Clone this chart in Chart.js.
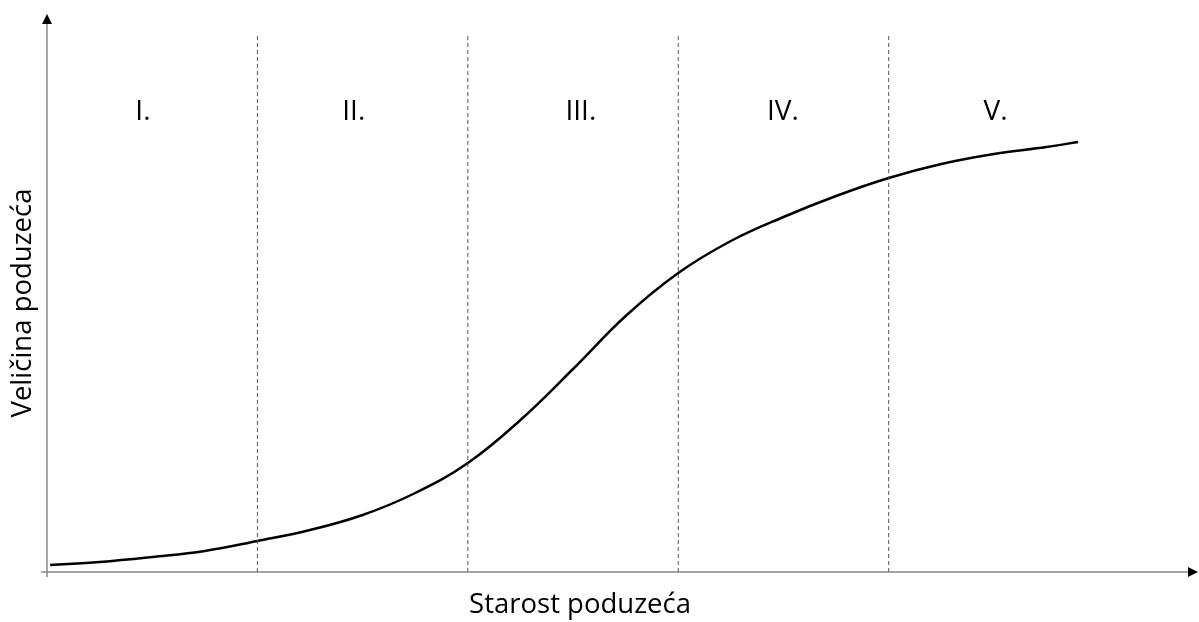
<!DOCTYPE html>
<html>
<head>
<meta charset="utf-8">
<script src="https://cdn.jsdelivr.net/npm/chart.js@4"></script>
<style>
  html, body { margin: 0; padding: 0; background: #fff; }
  #wrap { width: 1199px; height: 622px; }
</style>
</head>
<body>
<div id="wrap"><canvas id="lifeChart" width="1199" height="622"></canvas></div>
<script>
// 축 제목
const xTitle = 'Starost poduzeća';
const yTitle = 'Veličina poduzeća';

// 단계 (x축 단위 = 1 단계)
const stageBounds = [1, 2, 3, 4];
const stageTop = 537;
const stageLabels = ['I.', 'II.', 'III.', 'IV.', 'V.'];
const stageLabelX = [0.456, 1.458, 2.537, 3.497, 4.508];
const stageLabelY = 460;

// 성장 곡선
const curveX = [0.015, 0.25, 0.5, 0.75, 1.0, 1.25, 1.5, 1.75, 2.0, 2.25, 2.5,
                2.75, 3.0, 3.25, 3.5, 3.75, 4.0, 4.25, 4.5, 4.75, 4.9];
const curveY = [7, 10, 15, 21, 31, 42, 57, 79, 109, 152, 203,
                256, 299, 331, 355, 376, 394, 408, 418, 425, 430];

// 축 범위
const xMax = 5.47;
const yMax = 558;

const FONT = '"Open Sans", "Liberation Sans", sans-serif';

const curveData = curveX.map((x, i) => ({x: x, y: curveY[i]}));

const stageSets = stageBounds.map(b => ({
    data: [{x: b, y: 0}, {x: b, y: stageTop}],
    showLine: true,
    borderColor: '#555',
    borderWidth: 1,
    borderDash: [4, 3],
    pointRadius: 0
}));

/* ===== 축 + 화살표 + 텍스트 ===== */
const axesPlugin = {
    id: 'axesPlugin',
    beforeDatasetsDraw(chart) {
        const {ctx, scales: {x, y}} = chart;
        const x0 = x.getPixelForValue(0);
        const y0 = y.getPixelForValue(0);
        const xEnd = x.getPixelForValue(xMax);
        const yEnd = y.getPixelForValue(yMax);
        ctx.save();
        ctx.strokeStyle = '#8a8a8a';
        ctx.lineWidth = 1.5;
        ctx.beginPath();
        ctx.moveTo(x0 - 6, y0);
        ctx.lineTo(xEnd - 9, y0);
        ctx.moveTo(x0, y0 + 5);
        ctx.lineTo(x0, yEnd + 9);
        ctx.stroke();
        // 화살표
        ctx.fillStyle = '#000';
        ctx.beginPath();
        ctx.moveTo(xEnd, y0);
        ctx.lineTo(xEnd - 10, y0 - 5);
        ctx.lineTo(xEnd - 10, y0 + 5);
        ctx.closePath();
        ctx.fill();
        ctx.beginPath();
        ctx.moveTo(x0, yEnd);
        ctx.lineTo(x0 - 5, yEnd + 10);
        ctx.lineTo(x0 + 5, yEnd + 10);
        ctx.closePath();
        ctx.fill();
        ctx.restore();
    },
    afterDatasetsDraw(chart) {
        const {ctx, scales: {x, y}} = chart;
        ctx.save();
        ctx.fillStyle = '#000';
        ctx.textAlign = 'center';
        ctx.textBaseline = 'middle';
        ctx.font = '28px ' + FONT;
        stageLabels.forEach((t, i) => {
            ctx.fillText(t, x.getPixelForValue(stageLabelX[i]), y.getPixelForValue(stageLabelY));
        });
        ctx.font = '27.5px ' + FONT;
        ctx.fillText(xTitle, 580, 605);
        ctx.translate(23, 303);
        ctx.rotate(-Math.PI / 2);
        ctx.fillText(yTitle, 0, 0);
        ctx.restore();
    }
};

const chart = new Chart(document.getElementById('lifeChart'), {
    type: 'scatter',
    data: {
        datasets: [
            ...stageSets,
            {
                data: curveData,
                showLine: true,
                borderColor: '#000',
                borderWidth: 2.5,
                pointRadius: 0,
                tension: 0.4
            }
        ]
    },
    options: {
        responsive: false,
        animation: false,
        layout: {padding: {left: 47, right: 1, top: 14, bottom: 50}},
        plugins: {legend: {display: false}, tooltip: {enabled: false}},
        scales: {
            x: {type: 'linear', min: 0, max: xMax, display: false},
            y: {type: 'linear', min: 0, max: yMax, display: false}
        }
    },
    plugins: [axesPlugin]
});
</script>
</body>
</html>
